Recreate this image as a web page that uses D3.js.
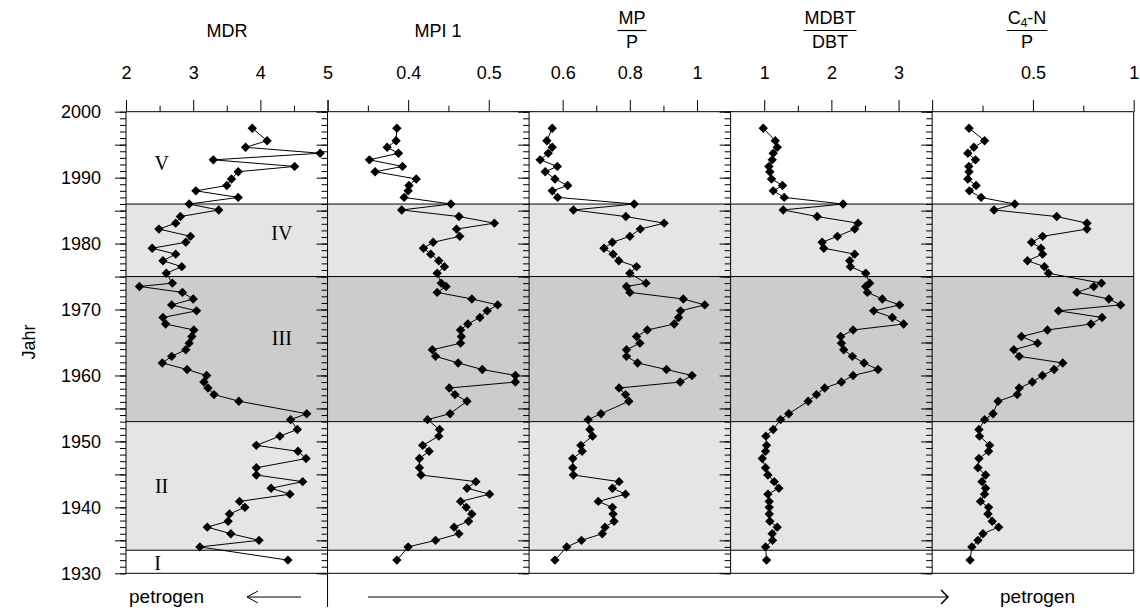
<!DOCTYPE html>
<html><head><meta charset="utf-8">
<script src="https://cdn.jsdelivr.net/npm/d3@7"></script>
<style>
body{margin:0;background:#fff}
text{font-family:"Liberation Sans",Arial,sans-serif;fill:#000}
</style>
</head><body>
<svg id="c" width="1140" height="612"></svg>
<script>
// ---------- data ----------
const years = [1997.5,1995.6,1994.6,1993.7,1992.7,1991.7,1990.9,1989.8,1988.8,1988.0,1987.0,1986.0,1985.1,1984.1,1983.1,1982.2,1981.1,1980.2,1979.3,1978.4,1977.4,1976.5,1975.5,1974.0,1973.5,1972.6,1971.6,1970.7,1969.8,1968.8,1967.8,1966.9,1965.9,1964.9,1963.9,1962.9,1961.9,1960.9,1960.0,1959.0,1958.1,1957.1,1956.1,1954.2,1953.3,1951.8,1950.8,1949.4,1948.5,1947.4,1946.0,1944.9,1943.9,1942.9,1942.0,1940.9,1940.0,1939.0,1937.9,1937.0,1936.0,1935.0,1934.0,1932.0];

const mdr = [3.88,4.10,3.78,4.89,3.30,4.51,3.67,3.57,3.50,3.04,3.67,2.94,3.38,2.81,2.74,2.49,2.96,2.89,2.39,2.74,2.55,2.83,2.60,2.69,2.20,2.84,3.00,2.68,3.05,2.55,2.59,3.01,2.98,
  2.94,2.89,2.68,2.54,2.91,3.20,3.16,3.22,3.31,3.68,4.69,4.45,4.55,4.29,3.94,4.56,4.68,3.94,3.94,4.63,4.16,4.44,3.69,3.77,3.54,3.52,3.21,3.56,3.98,3.10,4.41];

const mpi1 = [0.386,0.385,0.374,0.388,0.352,0.393,0.359,0.410,0.401,0.400,0.395,0.453,0.392,0.463,0.507,0.460,0.464,0.431,0.419,0.428,0.438,0.445,0.436,0.441,0.447,0.436,0.479,0.511,0.498,0.489,0.474,0.465,0.466,
  0.465,0.430,0.434,0.462,0.492,0.533,0.533,0.451,0.458,0.473,0.452,0.424,0.439,0.438,0.418,0.426,0.414,0.414,0.416,0.484,0.473,0.501,0.465,0.472,0.479,0.475,0.457,0.463,0.434,0.400,0.386];

const mpP = [0.569,0.553,0.569,0.557,0.533,0.584,0.548,0.577,0.615,0.569,0.585,0.813,0.632,0.788,0.902,0.831,0.800,0.748,0.723,0.750,0.767,0.820,0.800,0.848,0.790,0.800,0.959,1.023,0.951,0.945,0.932,0.852,0.820,
  0.830,0.790,0.790,0.823,0.909,0.985,0.950,0.768,0.787,0.797,0.714,0.676,0.681,0.689,0.654,0.658,0.630,0.630,0.632,0.768,0.748,0.787,0.706,0.748,0.750,0.753,0.726,0.718,0.656,0.612,0.577];

const mdbtDbt = [0.986,1.164,1.194,1.134,1.119,1.069,1.084,1.109,1.273,1.134,1.298,2.174,1.283,1.788,2.397,2.347,2.090,1.862,1.887,2.347,2.273,2.283,2.511,2.570,2.511,2.536,2.759,3.016,2.630,2.907,3.075,2.323,2.139,
  2.149,2.184,2.313,2.486,2.694,2.323,2.149,1.901,1.778,1.654,1.366,1.243,1.134,1.025,1.035,1.020,0.971,1.020,1.055,1.149,1.218,1.055,1.075,1.075,1.075,1.084,1.194,1.119,1.124,1.020,1.035];

const c4nP = [0.183,0.260,0.207,0.177,0.215,0.182,0.183,0.177,0.218,0.185,0.243,0.410,0.307,0.618,0.768,0.768,0.548,0.493,0.540,0.548,0.473,0.557,0.577,0.840,0.802,0.718,0.877,0.935,0.627,0.843,0.788,0.572,0.443,
  0.523,0.405,0.432,0.648,0.605,0.547,0.497,0.432,0.422,0.327,0.302,0.260,0.232,0.235,0.285,0.280,0.232,0.227,0.265,0.247,0.265,0.260,0.240,0.280,0.277,0.298,0.330,0.252,0.227,0.197,0.188];

const seriesList = [mdr, mpi1, mpP, mdbtDbt, c4nP];

// x-domains and top tick values / labels per panel
const xDomains = [[2,5],[0.3,0.55],[0.5,1.1],[0.5,3.5],[0,1]];
const majorTicks = [[2,3,4,5],[0.3,0.4,0.5],[0.6,0.8,1.0],[1,2,3],[0,0.5,1]];
const minorTicks = [[2.5,3.5,4.5],[0.35,0.45],[0.7,0.9],[1.5,2.5],[0.25,0.75]];
const tickLabels = [["2","3","4","5"],["","0.4","0.5"],["0.6","0.8","1"],["1","2","3"],["","0.5","1"]];

// titles
const titleNum = ["MDR","MPI 1","MP","MDBT","C4-N"];
const titleDen = [null,null,"P","DBT","P"];
const titleX = [227,438,632,830,1027];

// year axis
const yearDomain = [1930,2000];
const yearLabels = [1930,1940,1950,1960,1970,1980,1990,2000];

// zones
const bandFrom = [1930,1933.5,1953,1975,1986];
const bandTo   = [1933.5,1953,1975,1986,2000];
const bandName = ["I","II","III","IV","V"];
const bandFill = ["#ffffff","#e5e5e5","#cccccc","#e5e5e5","#ffffff"];
// zone label anchor (MDR value, year of baseline)
const bandLabelX = [2.47,2.53,4.32,4.32,2.53];
const bandLabelY = [1930.5,1942.2,1964.6,1980.5,1991.2];

// ---------- layout ----------
const FS = "18px";
const svg = d3.select("#c");
const L = 126, R = 1133.7, T = 111.7, B = 573.3;
const PW = (R - L) / 5;
const y = d3.scaleLinear().domain(yearDomain).range([B, T]);
const xScales = xDomains.map((d,i) => d3.scaleLinear().domain(d).range([L + i*PW, L + (i+1)*PW]));
const xMDR = xScales[0];

// bands
svg.append("g").selectAll("rect").data(bandFrom).join("rect")
  .attr("x", L).attr("width", R - L)
  .attr("y", (d,i) => y(bandTo[i])).attr("height", (d,i) => y(d) - y(bandTo[i]))
  .attr("fill", (d,i) => bandFill[i]);

// band boundary lines
svg.append("g").selectAll("line").data(bandFrom.slice(1)).join("line")
  .attr("x1", L).attr("x2", R)
  .attr("y1", d => y(d)).attr("y2", d => y(d))
  .attr("stroke", "#000").attr("stroke-width", 1);

// zone labels
svg.append("g").selectAll("text").data(bandName).join("text")
  .attr("x", (d,i) => xMDR(bandLabelX[i]))
  .attr("y", (d,i) => y(bandLabelY[i]))
  .attr("text-anchor", "middle")
  .style("font-family", "'Liberation Serif','Times New Roman',serif")
  .style("font-size", "20px")
  .text(d => d);

// frame
const frame = svg.append("g").attr("stroke", "#000").attr("stroke-width", 1);
frame.append("line").attr("x1", L).attr("x2", R).attr("y1", T).attr("y2", T);
frame.append("line").attr("x1", L).attr("x2", R).attr("y1", B).attr("y2", B);
d3.range(6).forEach(i => {
  const xx = L + i*PW;
  frame.append("line").attr("x1", xx).attr("x2", xx).attr("y1", T).attr("y2", B);
});

// axes per panel
xScales.forEach((xs, i) => {
  const x0 = L + i*PW;
  // left year axis
  const gm = svg.append("g").attr("transform", `translate(${x0},0)`)
    .call(d3.axisLeft(y).tickValues(d3.range(1930, 2001, 1)).tickSize(6).tickFormat(""));
  const gM = svg.append("g").attr("transform", `translate(${x0},0)`)
    .call(d3.axisLeft(y).tickValues(d3.range(1930, 2001, 5)).tickSize(11).tickPadding(14)
      .tickFormat(d => (i === 0 && yearLabels.includes(d)) ? String(d) : ""));
  [gm, gM].forEach(g => {
    g.select(".domain").remove();
    g.selectAll("text").style("font-size", FS).attr("font-family", null);
  });

  // top axis
  const tm = svg.append("g").attr("transform", `translate(0,${T})`)
    .call(d3.axisTop(xs).tickValues(minorTicks[i]).tickSize(6).tickFormat(""));
  const tM = svg.append("g").attr("transform", `translate(0,${T})`)
    .call(d3.axisTop(xs).tickValues(majorTicks[i]).tickSize(11.7).tickPadding(21)
      .tickFormat((d,j) => tickLabels[i][j]));
  [tm, tM].forEach(g => {
    g.select(".domain").remove();
    g.selectAll("text").style("font-size", FS).attr("font-family", null);
  });

  // series line
  const vals = seriesList[i];
  const line = d3.line().x((d,j) => xs(vals[j])).y((d,j) => y(years[j]));
  svg.append("path").datum(years).attr("d", line)
    .attr("fill", "none").attr("stroke", "#000").attr("stroke-width", 1);

  // diamonds
  svg.append("g").selectAll("path").data(years).join("path")
    .attr("d", d3.symbol(d3.symbolSquare, 44)())
    .attr("transform", (d,j) => `translate(${xs(vals[j])},${y(d)}) rotate(45)`)
    .attr("fill", "#000");
});

// titles
const tg = svg.append("g").style("font-size", FS);
titleNum.forEach((t, i) => {
  const cx = titleX[i];
  if (!titleDen[i]) {
    tg.append("text").attr("x", cx).attr("y", 37).attr("text-anchor", "middle").text(t);
  } else {
    const num = tg.append("text").attr("x", cx).attr("y", 24).attr("text-anchor", "middle");
    if (t === "C4-N") {
      num.append("tspan").text("C");
      num.append("tspan").attr("baseline-shift", "-25%").style("font-size", "12px").text("4");
      num.append("tspan").text("-N");
    } else num.text(t);
    const w = num.node().getComputedTextLength();
    tg.append("line").attr("x1", cx - w/2 - 1).attr("x2", cx + w/2 + 1)
      .attr("y1", 30.5).attr("y2", 30.5).attr("stroke", "#000").attr("stroke-width", 1.2);
    tg.append("text").attr("x", cx).attr("y", 48).attr("text-anchor", "middle").text(titleDen[i]);
  }
});

// y title
svg.append("text").attr("transform", "translate(35,342) rotate(-90)")
  .attr("text-anchor", "middle").style("font-size", FS).text("Jahr");

// footer
const fg = svg.append("g");
const fy = 597;
fg.append("text").attr("x", 129).attr("y", 603).style("font-size", "19px").text("petrogen");
fg.append("text").attr("x", 1000).attr("y", 603).style("font-size", "19px").text("petrogen");
fg.append("line").attr("x1", xScales[1].range()[0]).attr("x2", xScales[1].range()[0])
  .attr("y1", B).attr("y2", 607).attr("stroke", "#000");
fg.append("line").attr("x1", 301).attr("x2", 247).attr("y1", fy).attr("y2", fy).attr("stroke", "#000");
fg.append("polyline").attr("points", `258,591 247,${fy} 258,603`).attr("fill", "none").attr("stroke", "#000");
fg.append("line").attr("x1", 368).attr("x2", 948).attr("y1", fy).attr("y2", fy).attr("stroke", "#000");
fg.append("polyline").attr("points", `941,590 948,${fy} 941,604`).attr("fill", "none").attr("stroke", "#000").attr("stroke-width", 1.5);
</script>
</body></html>
